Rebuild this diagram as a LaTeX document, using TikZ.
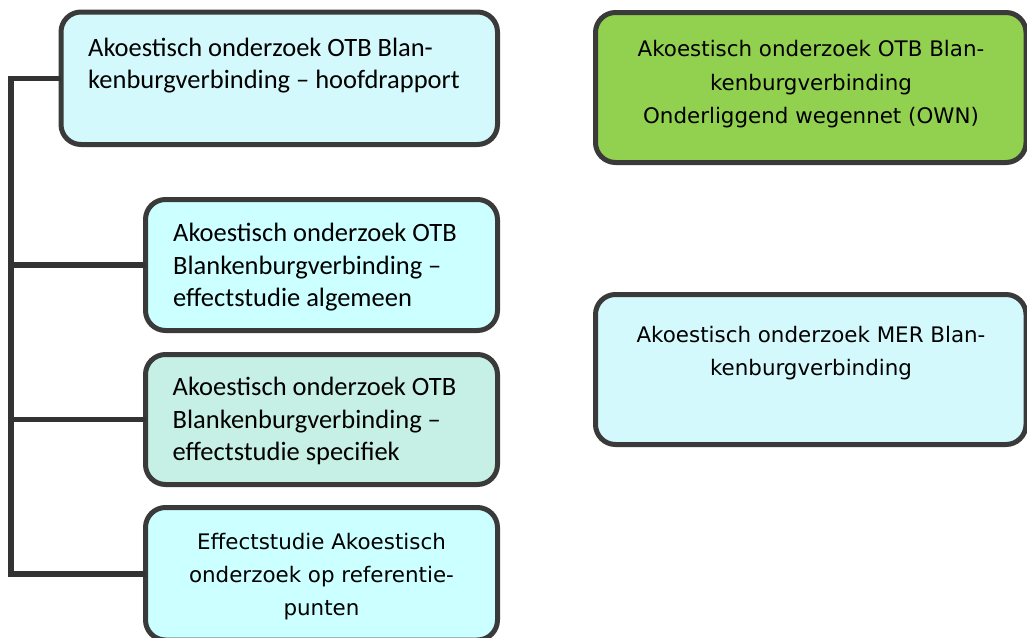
\documentclass[tikz,border=0pt]{standalone}
\usepackage{fontspec}
\newfontfamily\calfont{Carlito}
\newfontfamily\verfont{DejaVu Sans}
\definecolor{bordc}{HTML}{3A3A3A}
\definecolor{connc}{HTML}{333333}
\definecolor{cyana}{HTML}{D4F9FC}
\definecolor{cyanb}{HTML}{CCFFFF}
\definecolor{mint}{HTML}{C6EFE5}
\definecolor{lgreen}{HTML}{92D050}
\newcommand\cstrut{\rule{0pt}{25pt}}
\newcommand\vstrut{\rule{0pt}{22pt}}
\tikzset{
  box/.style={draw=bordc, line width=5pt, rounded corners=20pt, inner sep=0pt, outer sep=0pt, anchor=north west},
  caltxt/.style={inner sep=0pt, align=left, anchor=north west, font=\calfont\fontsize{26.5}{32.5}\selectfont},
  vertxt/.style={inner sep=0pt, align=center, anchor=north, font=\verfont\fontsize{21.4}{33.3}\selectfont},
  conn/.style={draw=connc, line width=5.5pt, line join=miter}
}
\begin{document}
\begin{tikzpicture}[x=1pt,y=-1pt]
\useasboundingbox (0,0) rectangle (1027,637);
% boxes
\node[box, fill=cyana, minimum width=436.5pt, minimum height=132.5pt] (b1) at (61,12) {};
\node[box, fill=cyanb, minimum width=352pt, minimum height=131pt] (b3) at (145.5,199.5) {};
\node[box, fill=mint, minimum width=352pt, minimum height=130pt] (b4) at (145.5,354.5) {};
\node[box, fill=cyanb, minimum width=352pt, minimum height=132.5pt] (b5) at (145.5,507.5) {};
\node[box, fill=lgreen, minimum width=430.5pt, minimum height=150pt] (g) at (595.5,12.5) {};
\node[box, fill=cyana, minimum width=430.5pt, minimum height=150pt] (m) at (595.5,294.5) {};
% texts
\node[caltxt] (t1) at (88,31) {\cstrut Akoestisch onderzoek OTB Blan-\\kenburgverbinding – hoofdrapport};
\node[caltxt] (t3) at (173,216.5) {\cstrut Akoestisch onderzoek OTB\\Blankenburgverbinding –\\effectstudie algemeen};
\node[caltxt] (t4) at (172.5,370.5) {\cstrut Akoestisch onderzoek OTB\\Blankenburgverbinding –\\effectstudie specifiek};
\node[vertxt] (t5) at (321.5,527) {\vstrut Effectstudie Akoestisch\\onderzoek op referentie-\\punten};
\node[vertxt] (tg) at (811,34.5) {\vstrut Akoestisch onderzoek OTB Blan-\\kenburgverbinding\\Onderliggend wegennet (OWN)};
\node[vertxt] (tm) at (811,320) {\vstrut Akoestisch onderzoek MER Blan-\\kenburgverbinding};
% connectors
\coordinate (sx) at (11,0);
\draw[conn] (b1.west) -- (b1.west -| sx) -- (b5.west -| sx) -- (b5.west);
\draw[conn] (b3.west -| sx) -- (b3.west);
\draw[conn] (b4.west -| sx) -- (b4.west);
\end{tikzpicture}
\end{document}
